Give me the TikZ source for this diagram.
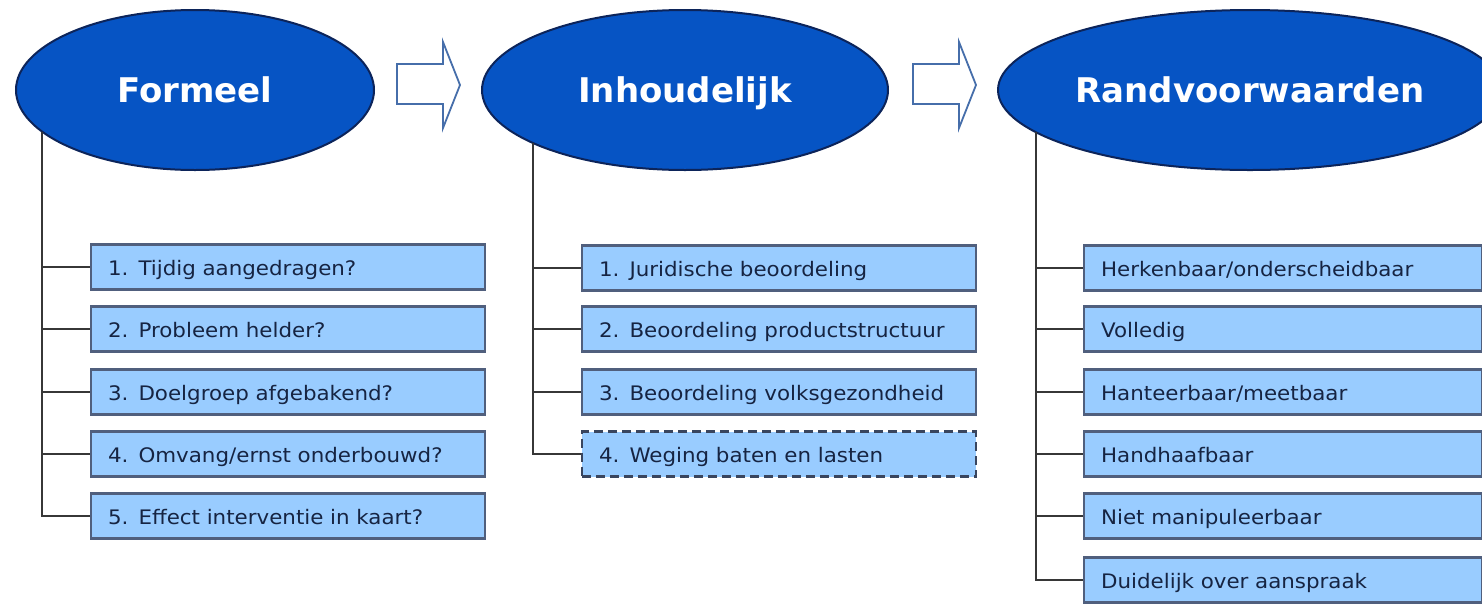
\documentclass[tikz,border=0pt]{standalone}
\usepackage{fontspec}
\setmainfont{DejaVu Sans}
\newfontfamily\boxfont[FakeStretch=1.07]{DejaVu Sans}
\usetikzlibrary{shapes.geometric}
\definecolor{ellfill}{RGB}{6,84,196}
\definecolor{elldraw}{RGB}{12,36,90}
\definecolor{boxfill}{RGB}{153,204,255}
\definecolor{boxdraw}{RGB}{80,95,125}
\definecolor{txt}{RGB}{22,36,66}
\definecolor{arrowc}{RGB}{70,110,170}
\definecolor{linec}{RGB}{55,55,55}
\tikzset{
  head/.style={ellipse, fill=ellfill, draw=elldraw, line width=2pt, text=white,
    font=\fontsize{34}{40}\selectfont\bfseries, inner sep=0pt, text height=25pt, text depth=0pt},
  item/.style={rectangle, fill=boxfill, draw=boxdraw, line width=2.2pt, minimum height=45pt,
    text=txt, font=\boxfont\fontsize{20}{24}\selectfont, anchor=west, align=left, inner xsep=17pt,
    text height=17pt, text depth=0pt, text width=360pt},
  itemdash/.style={item, dash pattern=on 9pt off 5pt, draw=txt!85},
  conn/.style={draw=linec, line width=2.2pt},
  hollow/.style={draw=arrowc, fill=white, line width=1.8pt, line join=miter}
}
\begin{document}
\begin{tikzpicture}[x=1pt,y=-1pt]
\useasboundingbox (0,0) rectangle (1482,603);
% headers
\node[head, minimum width=358pt, minimum height=160pt] (F) at (195,90) {Formeel};
\node[head, minimum width=406pt, minimum height=160pt] (I) at (685,90) {Inhoudelijk};
\node[head, minimum width=504pt, minimum height=160pt] (R) at (1250,90) {Randvoorwaarden};
% hollow arrows
\draw[hollow] (397,64) -- (443,64) -- (443,42) -- (460,85) -- (443,128) -- (443,104) -- (397,104) -- cycle;
\draw[hollow] (913,64) -- (959,64) -- (959,42) -- (976,85) -- (959,128) -- (959,104) -- (913,104) -- cycle;
% start points of connectors
\coordinate (Ft) at (42,131.5);
\coordinate (It) at (533,143);
\coordinate (Rt) at (1036,132);
% Formeel items
\node[item] (F1) at (90,267) {1. Tijdig aangedragen?};
\node[item] (F2) at (90,329) {2. Probleem helder?};
\node[item] (F3) at (90,392) {3. Doelgroep afgebakend?};
\node[item] (F4) at (90,454) {4. Omvang/ernst onderbouwd?};
\node[item] (F5) at (90,516) {5. Effect interventie in kaart?};
% Inhoudelijk items
\node[item] (I1) at (581,268) {1. Juridische beoordeling};
\node[item] (I2) at (581,329) {2. Beoordeling productstructuur};
\node[item] (I3) at (581,392) {3. Beoordeling volksgezondheid};
\node[itemdash] (I4) at (581,454) {4. Weging baten en lasten};
% Randvoorwaarden items
\node[item, text width=364pt] (R1) at (1083,268) {Herkenbaar/onderscheidbaar};
\node[item, text width=364pt] (R2) at (1083,329) {Volledig};
\node[item, text width=364pt] (R3) at (1083,392) {Hanteerbaar/meetbaar};
\node[item, text width=364pt] (R4) at (1083,454) {Handhaafbaar};
\node[item, text width=364pt] (R5) at (1083,516) {Niet manipuleerbaar};
\node[item, text width=364pt] (R6) at (1083,580) {Duidelijk over aanspraak};
% connectors
\foreach \n in {1,...,5} \draw[conn] (Ft) |- (F\n.west);
\foreach \n in {1,...,4} \draw[conn] (It) |- (I\n.west);
\foreach \n in {1,...,6} \draw[conn] (Rt) |- (R\n.west);
\end{tikzpicture}
\end{document}
